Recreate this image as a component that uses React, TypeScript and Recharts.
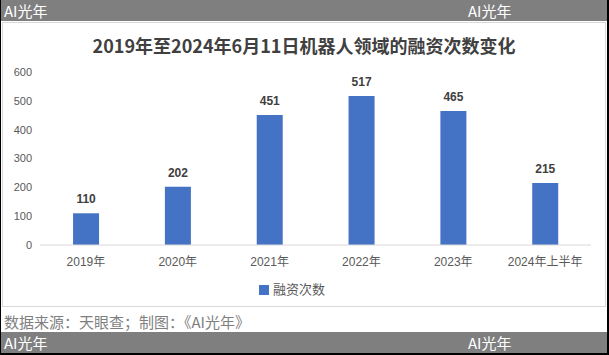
import { BarChart, Bar, XAxis, YAxis, Legend, LabelList } from 'recharts'

const years = ['2019年', '2020年', '2021年', '2022年', '2023年', '2024年上半年']
const deals = [110, 202, 451, 517, 465, 215]
const yTicks = [0, 100, 200, 300, 400, 500, 600]

const data = years.map((name, i) => ({ name, value: deals[i] }))

const cjk = '"Noto Sans CJK SC", "Liberation Sans", sans-serif'
const tickFont = '"Liberation Sans", "Noto Sans CJK SC", sans-serif'

function Banner({ top }: { top: number }) {
  return (
    <div
      style={{
        position: 'absolute',
        left: 0,
        top,
        width: 607,
        height: 21,
        background: '#7f7f7f',
        color: '#fff',
        fontFamily: cjk,
        fontSize: 15,
        lineHeight: '21px',
      }}
    >
      <span style={{ position: 'absolute', left: 3 }}>AI光年</span>
      <span style={{ position: 'absolute', left: 467 }}>AI光年</span>
    </div>
  )
}

export default function App() {
  return (
    <div
      style={{
        position: 'fixed',
        left: 0,
        top: 0,
        width: 609,
        height: 355,
        background: '#fff',
        boxSizing: 'border-box',
        borderLeft: '1px solid #000',
        borderRight: '2px solid #000',
        borderBottom: '2px solid #000',
        overflow: 'hidden',
      }}
    >
      <Banner top={0} />
      <div
        style={{
          position: 'absolute',
          left: 1,
          top: 22,
          width: 604,
          height: 285,
          boxSizing: 'border-box',
          border: '1px solid #d9d9d9',
        }}
      >
        <div
          style={{
            position: 'absolute',
            left: 0,
            right: 0,
            top: 9,
            textAlign: 'center',
            fontFamily: cjk,
            fontWeight: 700,
            fontSize: 18,
            color: '#404040',
          }}
        >
          2019年至2024年6月11日机器人领域的融资次数变化
        </div>
        <BarChart
          width={602}
          height={283}
          data={data}
          margin={{ top: 49, right: 14, left: 0, bottom: 20 }}
          barCategoryGap="36%"
        >
          <XAxis
            dataKey="name"
            axisLine={{ stroke: '#d9d9d9' }}
            tickLine={false}
            height={22}
            tick={{ fontSize: 12, fill: '#595959', fontFamily: tickFont }}
            tickMargin={6}
          />
          <YAxis
            width={37}
            domain={[0, 600]}
            ticks={yTicks}
            axisLine={false}
            tickLine={false}
            tick={{ fontSize: 11, fill: '#595959', fontFamily: tickFont }}
          />
          <Legend
            verticalAlign="bottom"
            iconType="square"
            iconSize={10}
            wrapperStyle={{ bottom: 8, fontFamily: cjk, fontSize: 13, color: '#595959' }}
            formatter={() => <span style={{ color: '#595959' }}>融资次数</span>}
          />
          <Bar dataKey="value" name="融资次数" fill="#4472c4" isAnimationActive={false}>
            <LabelList
              dataKey="value"
              position="top"
              offset={10}
              style={{ fontSize: 12, fontWeight: 700, fill: '#404040', fontFamily: tickFont }}
            />
          </Bar>
        </BarChart>
      </div>
      <div
        style={{
          position: 'absolute',
          left: 3,
          top: 311,
          fontFamily: cjk,
          fontSize: 15,
          color: '#7f7f7f',
          whiteSpace: 'nowrap',
        }}
      >
        数据来源：天眼查；制图：《AI光年》
      </div>
      <Banner top={332} />
    </div>
  )
}
